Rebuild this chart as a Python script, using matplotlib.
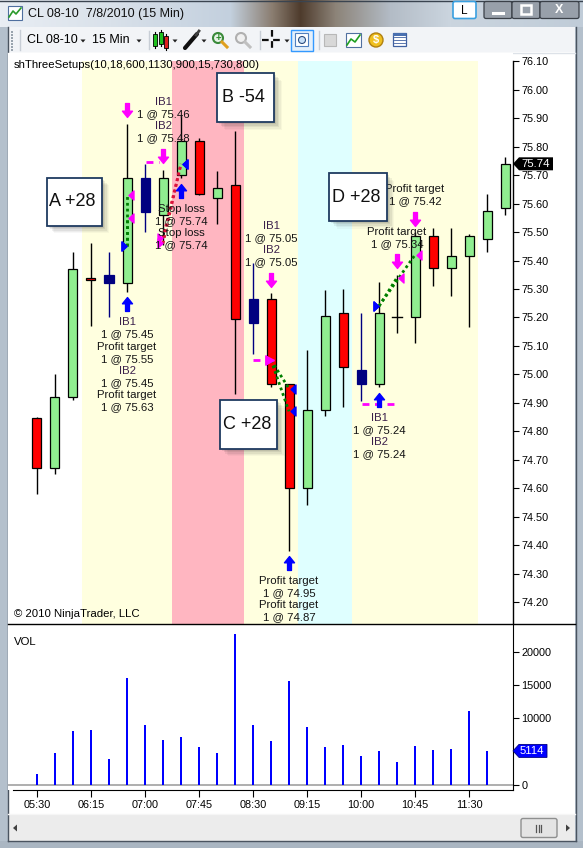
import matplotlib
matplotlib.use('Agg')
import matplotlib.pyplot as plt
from matplotlib.patches import Rectangle, Polygon, Circle, FancyBboxPatch
from matplotlib.path import Path
from matplotlib.transforms import ScaledTranslation
import numpy as np

plt.rcParams['font.family'] = ['Liberation Sans', 'DejaVu Sans']

# ---------------- data ----------------
times = ['05:30', '05:45', '06:00', '06:15', '06:30', '06:45', '07:00', '07:15', '07:30',
         '07:45', '08:00', '08:15', '08:30', '08:45', '09:00', '09:15', '09:30', '09:45',
         '10:00', '10:15', '10:30', '10:45', '11:00', '11:15', '11:30', '11:45', '12:00']
opens = [74.845, 74.67, 74.92, 75.34, 75.35, 75.32, 75.69, 75.56, 75.70, 75.82,
         75.62, 75.665, 75.265, 75.265, 74.965, 74.60, 74.875, 75.215, 75.015, 74.965,
         75.203, 75.203, 75.485, 75.375, 75.415, 75.475, 75.585]
highs = [74.85, 75.00, 75.43, 75.46, 75.43, 75.88, 75.74, 75.72, 75.91, 75.83,
         75.715, 75.855, 75.39, 75.285, 74.965, 75.085, 75.295, 75.30, 75.215, 75.325,
         75.35, 75.50, 75.515, 75.515, 75.495, 75.635, 75.765]
lows = [74.58, 74.65, 74.91, 75.17, 75.20, 75.29, 75.50, 75.455, 75.69, 75.63,
        75.53, 74.93, 75.07, 74.955, 74.38, 74.54, 74.855, 74.885, 74.905, 74.955,
        75.145, 75.11, 75.31, 75.275, 75.165, 75.43, 75.56]
closes = [74.67, 74.92, 75.37, 75.33, 75.32, 75.69, 75.57, 75.69, 75.82, 75.635,
          75.655, 75.195, 75.18, 74.965, 74.60, 74.875, 75.205, 75.025, 74.965, 75.215,
          75.203, 75.485, 75.375, 75.415, 75.485, 75.575, 75.74]
navy_bars = [4, 6, 12, 18]
volumes = [1700, 4800, 8100, 8250, 3900, 16050, 9000, 6750, 7200, 5700, 4800, 22650, 9000,
           6600, 15600, 8700, 5700, 6000, 4350, 5100, 3450, 5850, 5250, 5400, 11100, 5114]

price_ticks = [round(74.20 + 0.10 * k, 2) for k in range(20)]
vol_ticks = [0, 10000, 15000, 20000]
time_tick_bars = [0, 3, 6, 9, 12, 15, 18, 21, 24]

zone_start = [2.5, 7.5, 11.5, 14.5, 17.5]
zone_end = [7.5, 11.5, 14.5, 17.5, 24.5]
zone_colors = ['#FFFFDF', '#FFB6C1', '#FFFFDF', '#DFFFFF', '#FFFFDF']

exec_bar = [5, 5, 5, 5, 7, 7, 8, 8, 13, 13, 14, 14, 19, 19, 20, 21]
exec_side = ['buy', 'sell', 'buy', 'sell', 'sell', 'sell', 'buy', 'buy',
             'sell', 'sell', 'buy', 'buy', 'buy', 'buy', 'sell', 'sell']
exec_kind = ['entry', 'exit', 'entry', 'exit', 'entry', 'entry', 'exit', 'exit',
             'entry', 'entry', 'exit', 'exit', 'entry', 'entry', 'exit', 'exit']
exec_label = ['IB1', 'Profit target', 'IB2', 'Profit target', 'IB1', 'IB2', 'Stop loss', 'Stop loss',
              'IB1', 'IB2', 'Profit target', 'Profit target', 'IB1', 'IB2', 'Profit target', 'Profit target']
exec_price = [75.45, 75.55, 75.45, 75.63, 75.46, 75.48, 75.74, 75.74,
              75.05, 75.05, 74.95, 74.87, 75.24, 75.24, 75.34, 75.42]

trade_dir = ['long', 'long', 'short', 'short', 'short', 'short', 'long', 'long']
trade_entry_bar = [5, 5, 7, 7, 13, 13, 19, 19]
trade_entry_price = [75.45, 75.45, 75.46, 75.48, 75.05, 75.05, 75.24, 75.24]
trade_exit_bar = [5, 5, 8, 8, 14, 14, 20, 21]
trade_exit_price = [75.55, 75.63, 75.74, 75.74, 74.95, 74.87, 75.34, 75.42]

order_x0 = [6.04, 12.0, 18.04]
order_x1 = [6.79, 12.98, 20.02]
order_price = [75.746, 75.05, 74.896]
order_head = [False, True, False]

setup_labels = ['A +28', 'B -54', 'C +28', 'D +28']

# ---------------- figure ----------------
W, H = 583, 848
fig = plt.figure(figsize=(W / 100, H / 100), dpi=100)
fig.patch.set_facecolor('white')

bg = fig.add_axes([0, 0, 1, 1], zorder=0)
bg.set_xlim(0, W); bg.set_ylim(H, 0); bg.axis('off')

# title bar gradient
stops_x = [0, 110, 230, 272, 300, 335, 390, 450, 583]
stops_c = ['#e9eef4', '#d9e1ea', '#c3d0de', '#8a7d70', '#4e3b2c', '#8c8378', '#b3bcc6', '#cbd5df', '#c0ccd8']
rgb = np.array([matplotlib.colors.to_rgb(c) for c in stops_c])
xs = np.arange(W)
grad = np.stack([np.interp(xs, stops_x, rgb[:, k]) for k in range(3)], axis=-1)[None, :, :]
bg.imshow(grad, extent=[0, W, 27, 0], aspect='auto', zorder=0)
bg.add_patch(Rectangle((0, 27), 8, H - 27, fc='#b4c0cc', lw=0, zorder=1))
bg.add_patch(Rectangle((575, 27), 8, H - 27, fc='#b4c0cc', lw=0, zorder=1))
bg.add_patch(Rectangle((0, 841), W, 7, fc='#aab6c2', lw=0, zorder=1))
bg.plot([7.5, 7.5], [27, 841], color='#4a5460', lw=1, zorder=2)
bg.plot([575.5, 575.5], [27, 841], color='#4a5460', lw=1, zorder=2)
bg.plot([7.5, 575.5], [841, 841], color='#4a5460', lw=1, zorder=2)
bg.plot([0, W], [0.5, 0.5], color='#3a4450', lw=1, zorder=2)

# title
bg.add_patch(Rectangle((8, 6), 14, 14, fc='white', ec='#4f6f9f', lw=0.8, zorder=3))
bg.plot([9, 13, 16, 21], [17, 11, 14, 8], color='#2a9a2a', lw=1.2, zorder=4)
bg.text(28, 14, 'CL 08-10  7/8/2010 (15 Min)', fontsize=9, va='center', ha='left', color='#101010', zorder=4)
bg.add_patch(FancyBboxPatch((453, 1.5), 23, 17, boxstyle='round,pad=0,rounding_size=2',
                            fc='white', ec='#3aa0e0', lw=1.2, zorder=3))
bg.text(464.5, 10.5, 'L', fontsize=8.5, ha='center', va='center', zorder=4)
for bx0, bx1, sym in [(484, 512, 'min'), (512, 540, 'max'), (540, 579, 'x')]:
    bg.add_patch(FancyBboxPatch((bx0, 1.5), bx1 - bx0, 17, boxstyle='round,pad=0,rounding_size=2',
                                fc='#98a0aa', ec='#3a4048', lw=0.9, zorder=3))
    cx = (bx0 + bx1) / 2
    if sym == 'min':
        bg.plot([cx - 5, cx + 5], [13, 13], color='white', lw=2.2, zorder=4)
    elif sym == 'max':
        bg.add_patch(Rectangle((cx - 5, 5), 10, 9, fc='none', ec='white', lw=1.8, zorder=4))
    else:
        bg.text(cx, 10, 'X', fontsize=9, fontweight='bold', ha='center', va='center', color='white', zorder=4)

# toolbar
bg.add_patch(Rectangle((8, 27), 567, 25, fc='#f2f4f7', lw=0, zorder=1))
bg.plot([8, 575], [52.5, 52.5], color='#dde2e8', lw=1, zorder=2)
for yy in range(31, 50, 3):
    bg.add_patch(Rectangle((11, yy), 1.5, 1.5, fc='#9aa4ae', lw=0, zorder=3))
bg.plot([19.5, 19.5], [30, 50], color='#c8ced6', lw=1, zorder=3)
bg.text(27, 40, 'CL 08-10', fontsize=9, va='center', zorder=4)
bg.text(92, 40, '15 Min', fontsize=9, va='center', zorder=4)


def dropdown(x, y):
    bg.add_patch(Polygon([[x - 2.5, y - 1.5], [x + 2.5, y - 1.5], [x, y + 1.5]], closed=True,
                         fc='#202020', lw=0, zorder=4))


for dx in [82, 138, 174, 203, 286]:
    dropdown(dx + 1, 41)
for sx in [148, 259, 318]:
    bg.plot([sx + 0.5, sx + 0.5], [31, 49], color='#c8ced6', lw=1, zorder=3)
for cx, col, y0, y1 in [(155, '#20c020', 34, 46), (160.5, '#20c020', 32, 44), (166, '#e02020', 36, 48)]:
    bg.plot([cx, cx], [y0 - 2, y1 + 2], color='black', lw=0.8, zorder=3)
    bg.add_patch(Rectangle((cx - 2, y0), 4, y1 - y0, fc=col, ec='black', lw=0.6, zorder=4))
bg.plot([185, 197], [48, 34], color='#101010', lw=3, solid_capstyle='round', zorder=4)
bg.plot([196, 199], [35, 31], color='#404040', lw=2, zorder=4)
bg.add_patch(Circle((218, 38), 5, fc='#e8f4e8', ec='#3a8a3a', lw=1.5, zorder=4))
bg.text(218, 38, '+', fontsize=7, ha='center', va='center', color='#2a8a2a', fontweight='bold', zorder=5)
bg.plot([222, 227], [42, 47], color='#e0a020', lw=2.2, zorder=4)
bg.add_patch(Circle((241, 38), 5, fc='#f0f0f0', ec='#b0b0b0', lw=1.5, zorder=4))
bg.plot([245, 250], [42, 47], color='#c0c0c0', lw=2.2, zorder=4)
bg.plot([272, 272], [30, 50], color='#101010', lw=1.6, linestyle=(0, (3, 2)), zorder=4)
bg.plot([262, 282], [40, 40], color='#101010', lw=1.6, linestyle=(0, (3, 2)), zorder=4)
bg.add_patch(Rectangle((290.5, 29.5), 22, 21, fc='#e4f0fb', ec='#3399ff', lw=1, zorder=3))
bg.add_patch(Rectangle((295, 33), 13, 13, fc='white', ec='#5080c0', lw=0.8, zorder=4))
bg.add_patch(Circle((302, 40), 3.5, fc='#c8e0f8', ec='#305080', lw=0.8, zorder=5))
bg.add_patch(Rectangle((324, 34), 12, 12, fc='#d8d8d8', ec='#b8b8b8', lw=0.8, zorder=4))
bg.add_patch(Rectangle((346, 33), 15, 14, fc='white', ec='#5070a0', lw=0.8, zorder=4))
bg.plot([347, 351, 355, 360], [45, 39, 42, 35], color='#20a020', lw=1.2, zorder=5)
bg.add_patch(Circle((376, 40), 7, fc='#f0c020', ec='#b08010', lw=1, zorder=4))
bg.text(376, 40, '$', fontsize=8, ha='center', va='center', color='white', fontweight='bold', zorder=5)
bg.add_patch(Rectangle((393, 33), 13, 13, fc='white', ec='#4060a0', lw=0.9, zorder=4))
for yy in [36.5, 39.5, 42.5]:
    bg.plot([394, 405], [yy, yy], color='#4060a0', lw=0.6, zorder=5)
bg.add_patch(Rectangle((393, 33), 13, 2.5, fc='#4a70b0', lw=0, zorder=5))

# scrollbar
bg.add_patch(Rectangle((8, 814), 567, 27, fc='#ececec', lw=0, zorder=1))
bg.plot([8, 575], [813.5, 813.5], color='#f6f6f6', lw=1, zorder=2)
bg.add_patch(Polygon([[13, 828], [17, 824.5], [17, 831.5]], closed=True, fc='#404040', lw=0, zorder=3))
bg.add_patch(Polygon([[570, 828], [566, 824.5], [566, 831.5]], closed=True, fc='#404040', lw=0, zorder=3))
bg.add_patch(FancyBboxPatch((521, 818.5), 36, 19, boxstyle='round,pad=0,rounding_size=2',
                            fc='#e4e4e4', ec='#8e8f8f', lw=1, zorder=3))
for gx in [536, 538.5, 541]:
    bg.plot([gx, gx], [824.5, 831.5], color='#555555', lw=0.9, zorder=4)

# ---------------- price panel ----------------
XL = (-1.611, 26.444)
axp = fig.add_axes([8 / W, 1 - 624 / H, 505 / W, 571 / H], zorder=2)
axp.set_facecolor('white')
axp.set_xlim(*XL)
axp.set_ylim(74.1225, 76.1295)

for x0, x1, c in zip(zone_start, zone_end, zone_colors):
    axp.add_patch(Rectangle((x0, 74.1225), x1 - x0, 76.10 - 74.1225, fc=c, lw=0, zorder=0))

for i in range(len(opens)):
    o, h, l, c = opens[i], highs[i], lows[i], closes[i]
    if i in navy_bars:
        fc, ec = '#000080', '#000080'
    elif c > o + 1e-9:
        fc, ec = '#90EE90', 'black'
    else:
        fc, ec = '#FF0000', 'black'
    axp.plot([i, i], [l, h], color=ec, lw=1, zorder=2, solid_capstyle='butt')
    if abs(c - o) < 0.004:
        axp.plot([i - 0.26, i + 0.26], [o, o], color='black', lw=1, zorder=3)
    else:
        axp.add_patch(Rectangle((i - 0.25, min(o, c)), 0.5, abs(c - o), fc=fc, ec=ec, lw=0.9, zorder=3))


def off(dx, dy):
    """pixel offset (dx right, dy down)"""
    return axp.transData + ScaledTranslation(dx / 100, -dy / 100, fig.dpi_scale_trans)


up_verts = [(-0.28, -1), (0.28, -1), (0.28, 0.1), (0.72, 0.1), (0, 1), (-0.72, 0.1), (-0.28, 0.1), (-0.28, -1)]
codes = [Path.MOVETO] + [Path.LINETO] * 6 + [Path.CLOSEPOLY]
up_arrow = Path(up_verts, codes)
down_arrow = Path([(x, -y) for x, y in up_verts], codes)
tri_right = Path([(-0.55, -1), (0.55, 0), (-0.55, 1), (-0.55, -1)],
                 [Path.MOVETO, Path.LINETO, Path.LINETO, Path.CLOSEPOLY])
tri_left = Path([(0.55, -1), (-0.55, 0), (0.55, 1), (0.55, -1)],
                [Path.MOVETO, Path.LINETO, Path.LINETO, Path.CLOSEPOLY])

# trade connecting lines
for d, eb, ep, xb, xp in zip(trade_dir, trade_entry_bar, trade_entry_price, trade_exit_bar, trade_exit_price):
    win = (xp > ep) if d == 'long' else (xp < ep)
    col = '#008000' if win else '#DC143C'
    axp.plot([eb, xb], [ep, xp], color=col, lw=2.0, linestyle=(0, (1, 1.1)), zorder=4)

# pending order lines
for x0, x1, p, hd in zip(order_x0, order_x1, order_price, order_head):
    axp.plot([x0, x1], [p, p], color='#FF00FF', lw=2, linestyle=(0, (2.5, 2)), zorder=5)
    if hd:
        axp.plot([x1], [p], marker='>', color='#FF00FF', ms=6, transform=off(-1, 0), zorder=5)

# execution triangles
for b, p, s, k in zip(exec_bar, exec_price, exec_side, exec_kind):
    col = '#0000FF' if s == 'buy' else '#FF00FF'
    if k == 'entry':
        axp.plot([b], [p], marker=tri_right, ms=6.5, color=col, lw=0, transform=off(-3, 0), zorder=6)
    else:
        axp.plot([b], [p], marker=tri_left, ms=6.5, color=col, lw=0, transform=off(3.5, 0), zorder=6)

# execution arrows and text blocks
bars_with_exec = sorted(set(exec_bar))
for b in bars_with_exec:
    idx = [j for j in range(len(exec_bar)) if exec_bar[j] == b]
    sides = set(exec_side[j] for j in idx)
    if 'buy' in sides:
        axp.plot([b], [lows[b]], marker=up_arrow, ms=10, color='#0000FF', lw=0,
                 transform=off(0, 12.5), zorder=6)
    if 'sell' in sides:
        axp.plot([b], [highs[b]], marker=down_arrow, ms=10, color='#FF00FF', lw=0,
                 transform=off(0, -13.5), zorder=6)
    lines = []
    for j in idx:
        lines.append((exec_label[j], exec_label[j].startswith('IB')))
        lines.append(('1 @ %.2f' % exec_price[j], False))
    below = exec_side[idx[0]] == 'buy'
    n = len(lines)
    for k, (txt, is_ib) in enumerate(lines):
        if below:
            dy = 30.5 + 12.1 * k
            base = lows[b]
        else:
            dy = -31 - 12.1 * (n - 1 - k)
            base = highs[b]
        axp.text(b, base, txt, transform=off(0, dy), ha='center', va='center', fontsize=8.2,
                 color='#3a1f4a' if is_ib else '#141414', zorder=7, clip_on=False)

axp.yaxis.tick_right()
axp.set_yticks(price_ticks)
axp.set_yticklabels(['%.2f' % t for t in price_ticks])
axp.tick_params(axis='y', direction='out', length=4.5, width=0.8, pad=1.5, labelsize=7.8, colors='black')
axp.set_xticks([])
for sp in ['left', 'top', 'bottom']:
    axp.spines[sp].set_visible(False)
axp.spines['right'].set_bounds(74.1225, 76.10)
axp.spines['right'].set_linewidth(1)

# ---------------- volume panel ----------------
axv = fig.add_axes([8 / W, 1 - 790 / H, 505 / W, 166 / H], zorder=2)
axv.set_facecolor('white')
axv.set_xlim(*XL)
axv.set_ylim(-750, 24150)
axv.axhline(0, color='#a8a8a8', lw=1.3, zorder=1)
axv.bar(range(len(volumes)), volumes, width=0.12, color='#0000FF', lw=0, zorder=2)
axv.yaxis.tick_right()
axv.set_yticks(vol_ticks)
axv.set_yticklabels([str(v) for v in vol_ticks])
axv.set_xticks(time_tick_bars)
axv.set_xticklabels([times[b] for b in time_tick_bars])
axv.tick_params(axis='y', direction='out', length=4.5, width=0.8, pad=1.5, labelsize=7.8)
axv.tick_params(axis='x', direction='out', length=5, width=0.8, pad=2.5, labelsize=7.8)
for sp in ['left', 'top']:
    axv.spines[sp].set_visible(False)
axv.spines['bottom'].set_bounds(-1.33, XL[1])

# ---------------- overlay ----------------
ov = fig.add_axes([0, 0, 1, 1], zorder=5)
ov.set_xlim(0, W); ov.set_ylim(H, 0); ov.axis('off'); ov.patch.set_alpha(0)

ov.plot([8, 575], [624, 624], color='black', lw=1)
ov.text(14, 65, 'shThreeSetups(10,18,600,1130,900,15,730,800)', fontsize=8.2, va='center', ha='left')
ov.text(14, 614, '\u00a9 2010 NinjaTrader, LLC', fontsize=8.2, va='center', ha='left')
ov.text(14, 642, 'VOL', fontsize=8.2, va='center', ha='left')

box_px = [(46.7, 177.7, 101.7, 225.7), (217.3, 73.3, 274.3, 122.3),
          (220.3, 400, 277.3, 448.7), (329.3, 173.3, 386.7, 221)]
for (x0, y0, x1, y1), lab in zip(box_px, setup_labels):
    for k, a in enumerate([0.10, 0.09, 0.07, 0.05, 0.035]):
        d = 2 + 1.4 * k
        ov.add_patch(Rectangle((x0 + d, y0 + d), x1 - x0, y1 - y0, fc='#303030', alpha=a, lw=0))
    ov.add_patch(Rectangle((x0, y0), x1 - x0, y1 - y0, fc='white', ec='#1f3a60', lw=1.3))
    ov.text((x0 + x1) / 2 - 2, (y0 + y1) / 2, lab, ha='center', va='center', fontsize=13, color='#101010')

# last price tag
yl = H - axp.transData.transform((0, closes[-1]))[1]
ov.add_patch(Polygon([[513, yl], [519, yl - 6.5], [553, yl - 6.5], [553, yl + 6.5], [519, yl + 6.5]],
                     closed=True, fc='black', lw=0))
ov.text(536, yl, '%.2f' % closes[-1], color='white', fontsize=8.2, ha='center', va='center')
# last volume tag
yv = H - axv.transData.transform((0, volumes[-1]))[1]
ov.add_patch(Polygon([[513, yv], [519, yv - 6.5], [547, yv - 6.5], [547, yv + 6.5], [519, yv + 6.5]],
                     closed=True, fc='#0000FF', ec='#000080', lw=0.6))
ov.text(532, yv, str(volumes[-1]), color='white', fontsize=8.2, ha='center', va='center')

fig.savefig('out.png', dpi=100)
